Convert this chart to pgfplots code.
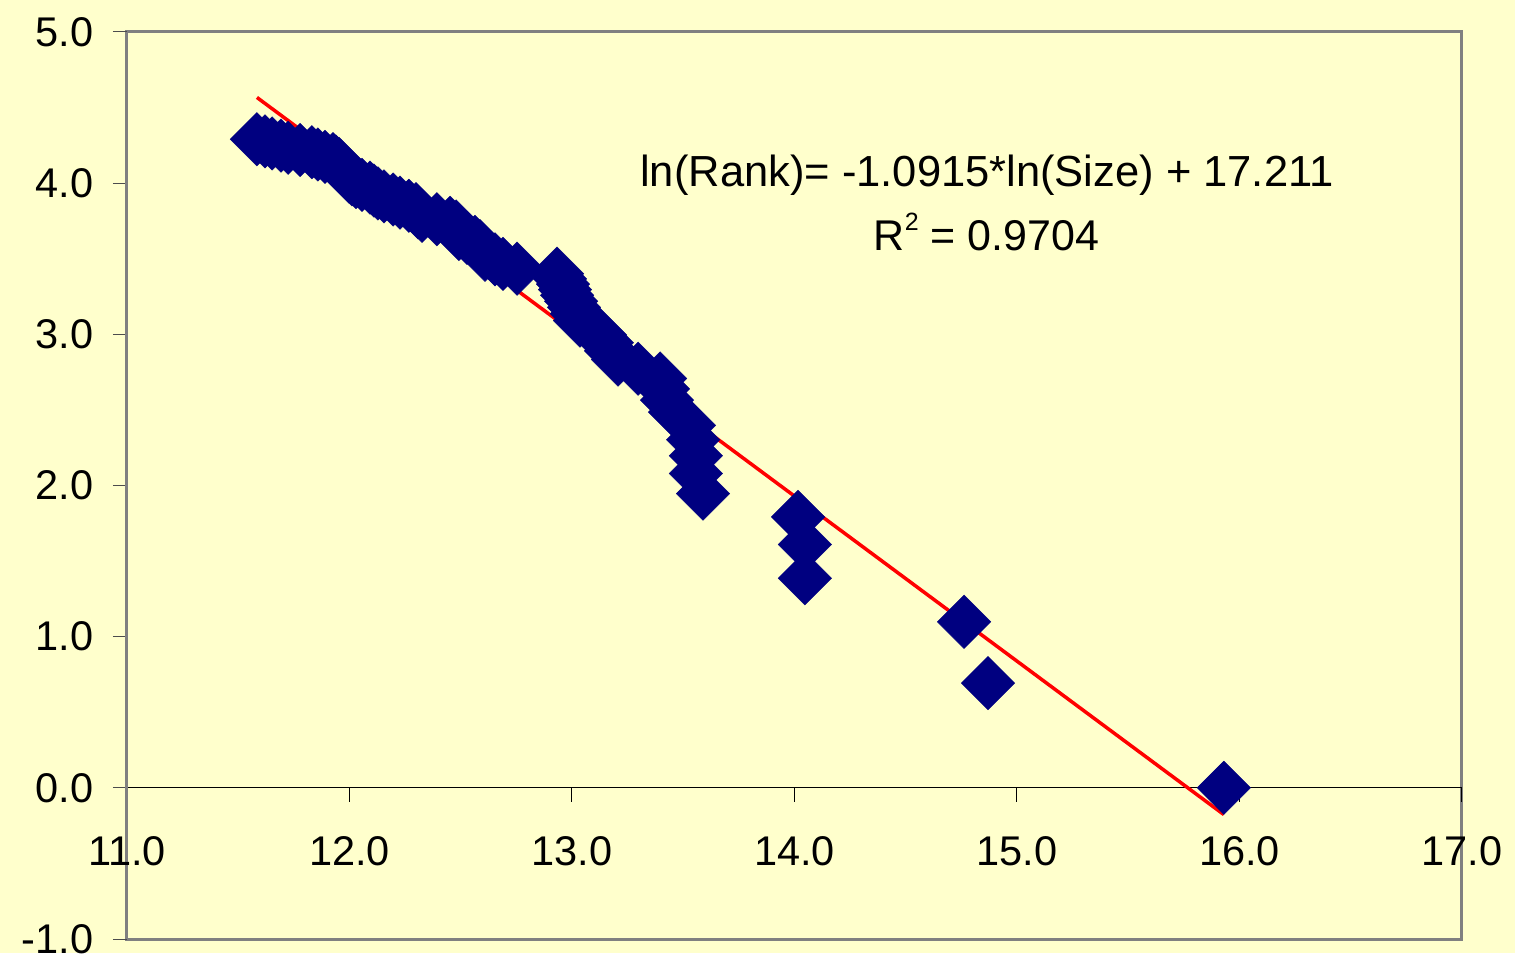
\documentclass[border=0pt]{standalone}
\usepackage{pgfplots}
\pgfplotsset{compat=1.18}
\usepackage{pgfplotstable}
\usepackage{fontspec}
\setmainfont{Liberation Sans}
\definecolor{bgyellow}{HTML}{FFFFCC}
\definecolor{framegray}{HTML}{808080}
\definecolor{navyblue}{HTML}{000080}
\pgfplotstableread{
x y
15.930 0
14.870 0.6931
14.762 1.0986
14.047 1.3863
14.047 1.6094
14.016 1.7918
13.589 1.9459
13.557 2.0794
13.557 2.1972
13.544 2.3026
13.526 2.3979
13.463 2.4849
13.427 2.5649
13.409 2.6391
13.396 2.7081
13.297 2.7726
13.207 2.8332
13.175 2.8904
13.157 2.9444
13.126 2.9957
13.081 3.0445
13.036 3.0910
13.022 3.1355
13.009 3.1781
12.996 3.2189
12.978 3.2581
12.969 3.2958
12.960 3.3322
12.946 3.3673
12.933 3.4012
12.753 3.4340
12.690 3.4657
12.654 3.4965
12.609 3.5264
12.596 3.5553
12.587 3.5835
12.564 3.6109
12.528 3.6376
12.492 3.6636
12.483 3.6889
12.479 3.7136
12.452 3.7377
12.393 3.7612
12.326 3.7842
12.308 3.8067
12.299 3.8286
12.267 3.8501
12.227 3.8712
12.196 3.8918
12.155 3.9120
12.128 3.9318
12.110 3.9512
12.092 3.9703
12.056 3.9890
12.029 4.0073
12.011 4.0254
11.998 4.0431
11.989 4.0604
11.980 4.0775
11.971 4.0943
11.962 4.1109
11.953 4.1271
11.939 4.1431
11.926 4.1589
11.890 4.1744
11.858 4.1897
11.831 4.2047
11.778 4.2195
11.724 4.2341
11.692 4.2485
11.652 4.2627
11.620 4.2767
11.584 4.2905
}\ranks
\begin{document}
\begin{tikzpicture}
\fill[bgyellow] (-127pt,-14pt) rectangle (1388pt,939pt);
\useasboundingbox (-127pt,-14pt) rectangle (1388pt,939pt);
\begin{axis}[
  scale only axis,
  width=1335pt, height=907pt,
  xmin=11, xmax=17, ymin=-1, ymax=5,
  enlargelimits=false,
  axis x line=middle,
  axis y line=left,
  axis line style={-},
  x axis line style={black, line width=1pt},
  y axis line style={framegray, line width=3pt},
  axis background/.style={draw=framegray, line width=3pt},
  hide obscured x ticks=false,
  hide obscured y ticks=false,
  xtick={11,12,...,17},
  ytick={-1,0,...,5},
  tick align=outside,
  major tick length=14pt,
  x tick style={black, line width=1pt},
  y tick style={black!70, line width=1pt},
  tick label style={font=\fontsize{41.5}{48}\selectfont, text=black},
  xticklabel style={yshift=-31pt},
  yticklabel style={xshift=-16pt},
  /pgf/number format/assume math mode=true,
  /pgf/number format/.cd, fixed, fixed zerofill, precision=1,
  /pgfplots/.cd,
  clip=false,
]
\addplot[only marks, mark=square*, mark size=18.9pt,
  mark options={rotate=45, fill=navyblue, draw=navyblue, line width=0.4pt}]
  table[x=x, y=y] {\ranks};
\addplot[red, line width=3.5pt, no marks] coordinates {(11.584,4.567) (15.930,-0.177)};
\node[font=\fontsize{43.5}{50}\selectfont, anchor=base] at (axis cs:14.865,3.977) {ln(Rank)= -1.0915*ln(Size) + 17.211};
\node[font=\fontsize{43}{50}\selectfont, anchor=base] at (axis cs:14.863,3.554) {R\raisebox{20pt}{\fontsize{25}{25}\selectfont 2} = 0.9704};
\end{axis}
\end{tikzpicture}
\end{document}
